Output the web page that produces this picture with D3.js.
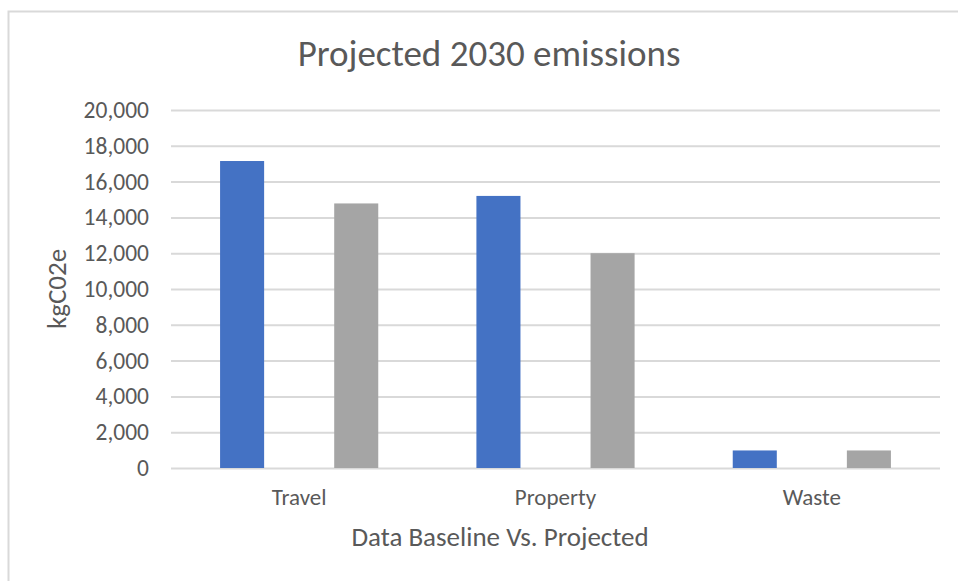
<!DOCTYPE html>
<html>
<head>
<meta charset="utf-8">
<script src="https://cdn.jsdelivr.net/npm/d3@7"></script>
<style>
  body { margin: 0; background: #fff; }
  svg { display: block; font-family: Carlito, Calibri, "Open Sans", sans-serif; }
</style>
</head>
<body>
<svg id="chart" width="958" height="581"></svg>
<script>
// Data
const categories = ["Travel", "Property", "Waste"];
const seriesNames = ["Baseline", "Projected"];
const baseline = [17150, 15200, 980];
const projected = [14780, 12000, 980];
const yTicks = [0, 2000, 4000, 6000, 8000, 10000, 12000, 14000, 16000, 18000, 20000];

const colors = ["#4472C4", "#A5A5A5"];
const fontFam = "Carlito, Calibri, 'Open Sans', sans-serif";

let margin = { left: 171, right: 18, top: 110, bottom: 113 };
let W = 958, H = 581;
let w = W - margin.left - margin.right;
let h = H - margin.top - margin.bottom;

let svg = d3.select("#chart");

// chart area border
svg.append("rect")
  .attr("x", 8.5)
  .attr("y", 11.5)
  .attr("width", W)
  .attr("height", H)
  .attr("fill", "none")
  .attr("stroke", "#d9d9d9")
  .attr("stroke-width", 2);

let g = svg.append("g")
  .attr("transform", `translate(${margin.left},${margin.top})`);

// Scales
let x0 = d3.scaleBand()
  .domain(categories)
  .range([0, w]);

let x1 = d3.scaleBand()
  .domain(seriesNames)
  .range([0, x0.bandwidth()])
  .paddingInner(0.614)
  .paddingOuter(0.43);

let y = d3.scaleLinear()
  .domain([0, 20000])
  .range([h, 0]);

// Gridlines
let yAxis = d3.axisLeft(y)
  .tickValues(yTicks)
  .tickSize(-w)
  .tickFormat(d3.format(","))
  .tickPadding(22);

let yG = g.append("g")
  .attr("class", "y-axis")
  .call(yAxis)
  .attr("font-family", fontFam);
yG.select(".domain").remove();
yG.selectAll(".tick line")
  .attr("stroke", "#d9d9d9")
  .attr("stroke-width", 2);
yG.selectAll(".tick text")
  .attr("fill", "#595959")
  .style("font-size", "23.5px");

// Bars
let rows = categories.map((c, i) => ({ cat: c, vals: [baseline[i], projected[i]] }));

let groups = g.selectAll(".cat")
  .data(rows)
  .enter()
  .append("g")
  .attr("class", "cat")
  .attr("transform", d => `translate(${x0(d.cat)},0)`);

groups.selectAll("rect")
  .data(d => d.vals.map((v, j) => ({ s: seriesNames[j], v: v, j: j })))
  .enter()
  .append("rect")
  .attr("x", d => x1(d.s))
  .attr("y", d => y(d.v))
  .attr("width", x1.bandwidth())
  .attr("height", d => h - y(d.v))
  .attr("fill", d => colors[d.j]);

// X axis labels
let xAxis = d3.axisBottom(x0).tickSize(0).tickPadding(21);
let xG = g.append("g")
  .attr("transform", `translate(0,${h})`)
  .call(xAxis)
  .attr("font-family", fontFam);
xG.select(".domain").remove();
xG.selectAll(".tick text")
  .attr("fill", "#595959")
  .style("font-size", "23px");

// Title
svg.append("text")
  .text("Projected 2030 emissions")
  .attr("x", 489)
  .attr("y", 66)
  .attr("text-anchor", "middle")
  .attr("fill", "#595959")
  .style("font-size", "37px");

// Axis titles
svg.append("text")
  .text("Data Baseline Vs. Projected")
  .attr("x", 500)
  .attr("y", 546)
  .attr("text-anchor", "middle")
  .attr("fill", "#595959")
  .style("font-size", "27px");

svg.append("text")
  .text("kgC02e")
  .attr("transform", "translate(66,289) rotate(-90)")
  .attr("text-anchor", "middle")
  .attr("fill", "#595959")
  .style("font-size", "27px");
</script>
</body>
</html>
